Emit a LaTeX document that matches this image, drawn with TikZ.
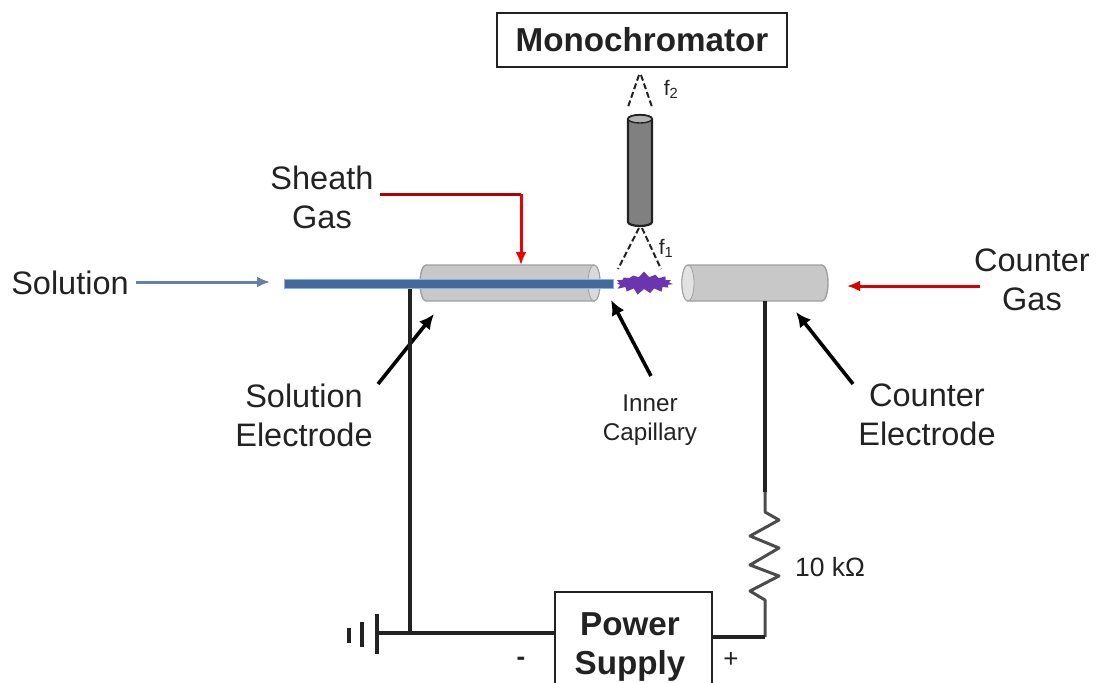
\documentclass[tikz,border=0pt]{standalone}
\usepackage{fontspec}
\setmainfont{Liberation Sans}
\usetikzlibrary{
    shapes.symbols,
    arrows.meta
}
\definecolor{tubegray}{HTML}{C8C8C8}
\definecolor{tubeface}{HTML}{E2E2E2}
\definecolor{tubeedge}{HTML}{A0A0A0}
\definecolor{capblue}{HTML}{44699F}
\definecolor{capedge}{HTML}{8FAEDC}
\definecolor{plume}{HTML}{6A35AE}
\definecolor{inkgray}{HTML}{222222}

\begin{document}
\begin{tikzpicture}[
      x=1pt, y=-1pt,
      label/.style={text=inkgray, align=center, inner sep=0pt, font=\fontsize{32.5}{39}\selectfont},
      smalllabel/.style={text=inkgray, align=center, inner sep=0pt, font=\fontsize{24.2}{29}\selectfont},
      greek/.style={text=inkgray, inner sep=0pt, font=\fontsize{21}{25}\selectfont},
      title/.style={text=inkgray, align=center, inner sep=0pt, font=\fontsize{33.2}{39}\selectfont\bfseries},
      frame/.style={draw=inkgray, line width=1.6pt, inner sep=0pt},
      slot/.style={inner sep=0pt, outer sep=0pt, minimum width=180pt, minimum height=36pt},
      tube/.style={draw=tubeedge, fill=tubegray, line width=1.4pt},
      face/.style={draw=tubeedge, fill=tubeface, line width=0.8pt},
      endcap/.style={x radius=6pt, y radius=18pt},
      filtercap/.style={x radius=12pt, y radius=4pt},
      wire/.style={line width=3.8pt, draw=inkgray},
      thinwire/.style={line width=3pt, draw=black!70},
      bar/.style={line width=3.6pt, draw=inkgray},
      pointer/.style={-{Latex[length=15pt,width=14pt]}, line width=3.6pt, draw=black},
      feed/.style={-{Latex[length=13pt,width=11pt]}, line width=3pt},
      cone/.style={line width=2pt, dash pattern=on 6pt off 3pt, draw=inkgray}
    ]
    \useasboundingbox (0,0) rectangle (1096,683);

    \node[frame, title, minimum width=290pt, minimum height=54pt] (mono) at (642,40) {Monochromator};
    \node[slot, minimum width=24pt, minimum height=111pt] (filter) at (640,170.5) {};
    \node[slot] (solelec) at (510,283) {};
    \node[slot, minimum width=146pt] (cntelec) at (755,283) {};

    \draw[line width=2.2pt, draw=inkgray, fill=black!50] ([yshift=-4pt]filter.north west) -- ([yshift=4pt]filter.south west)
      arc[start angle=180, end angle=360, filtercap] -- ([yshift=-4pt]filter.north east)
      arc[start angle=0, end angle=180, filtercap];
    \draw[line width=1.4pt, draw=inkgray, fill=black!30] (filter.north) ++(0,4) ellipse[filtercap];

    \draw[tube] ([xshift=6pt]solelec.north west) arc[start angle=90, end angle=270, endcap] -- ([xshift=-6pt]solelec.south east)
      arc[start angle=-90, end angle=90, endcap] -- cycle;
    \draw[face, fill=tubegray!70!white] ([xshift=-6pt]solelec.east) ellipse[endcap];

    \draw[tube] ([xshift=6pt]cntelec.north west) arc[start angle=90, end angle=270, endcap] -- ([xshift=-6pt]cntelec.south east)
      arc[start angle=-90, end angle=90, endcap] -- cycle;
    \draw[face] ([xshift=6pt]cntelec.west) ellipse[endcap];

    \node[draw=capedge, fill=capblue, line width=1pt, minimum width=329pt, minimum height=9pt, inner sep=0pt] (capillary) at (448.5,284) {};
    \node[starburst, fill=plume, starburst points=15, starburst point height=6pt, random starburst=7, inner sep=0pt,
      minimum width=62pt, minimum height=24pt] (flame) at (644,283) {};

    \node[label] (solution) at (70,283) {Solution};
    \node[label] (sheath) at (322,197) {Sheath\\Gas};
    \node[label] (cntgas) at (1032,280) {Counter\\Gas};
    \node[label] (sollabel) at (304,415) {Solution\\Electrode};
    \node[label] (cntlabel) at (927,415) {Counter\\Electrode};
    \node[smalllabel] (inner) at (650,420) {Inner\\Capillary};
    \node[greek] (fone) at (666,248) {f\textsubscript{1}};
    \node[greek] (ftwo) at (671,89) {f\textsubscript{2}};

    \node[frame, minimum width=157pt, minimum height=94pt] (supply) at (633.5,639) {};
    \node[title] (supplylabel) at (630,647) {Power\\Supply};
    \node[smalllabel, font=\fontsize{26}{29}\selectfont\bfseries] (minus) at (521,661) {-};
    \node[smalllabel, font=\fontsize{26}{29}\selectfont] (plus) at (731,660) {+};
    \node[label, font=\fontsize{26.5}{30}\selectfont] (ohms) at (830,567) {10 kΩ};

    \coordinate (solstart) at (136,282);
    \coordinate (solend) at (270,282);
    \coordinate (sheathstart) at (380,194);
    \coordinate (sheathbend) at (521,194);
    \coordinate (sheathend) at (521,265);
    \coordinate (gasstart) at (980,286);
    \coordinate (gasend) at (847,286);
    \coordinate (solfoot) at (378,384);
    \coordinate (solhead) at (434,314);
    \coordinate (innerfoot) at (651,376);
    \coordinate (innerhead) at (611,300);
    \coordinate (cntfoot) at (853,384);
    \coordinate (cnthead) at (796,312);
    \coordinate (tee) at (410,633);
    \coordinate (gnd) at (377,633);
    \coordinate (rjoin) at (765,492);
    \coordinate (rtop) at (765,512);
    \coordinate (rbot) at (765,600);
    \coordinate (corner) at (765,637);

    \draw[feed, draw=capblue!85!white] (solstart) -- (solend);
    \draw[line width=3pt, draw=red!70!black] (sheathstart) -- (sheathbend);
    \draw[feed, draw=red!95!black] (sheathbend) -- (sheathend);
    \draw[feed, draw=red!85!black] (gasstart) -- (gasend);

    \draw[pointer] (solfoot) -- (solhead);
    \draw[pointer] (innerfoot) -- (innerhead);
    \draw[pointer] (cntfoot) -- (cnthead);

    \draw[cone] (639,228) -- (618,269);
    \draw[cone] (642,228) -- (661,269);
    \draw[cone] (639,75) -- (628,107);
    \draw[cone] (641,75) -- (652,107);

    \draw[wire] (capillary.south -| tee) -- (tee);
    \draw[wire] (gnd) -- (tee) -- (supply.west |- tee);
    \draw[bar] (377,614) -- (377,654);
    \draw[bar] (362,622) -- (362,647);
    \draw[bar] (349,628) -- (349,643);

    \draw[wire] (cntelec.south -| rjoin) -- (rjoin);
    \draw[thinwire, line join=round] (rjoin) -- (rtop) -- ++(14,8) -- ++(-29,16) -- ++(29,12) -- ++(-29,17) -- ++(29,11) -- ++(-29,15) -- (rbot) -- (corner);
    \draw[wire] (corner) -- (supply.east |- corner);
  \end{tikzpicture}
\end{document}
